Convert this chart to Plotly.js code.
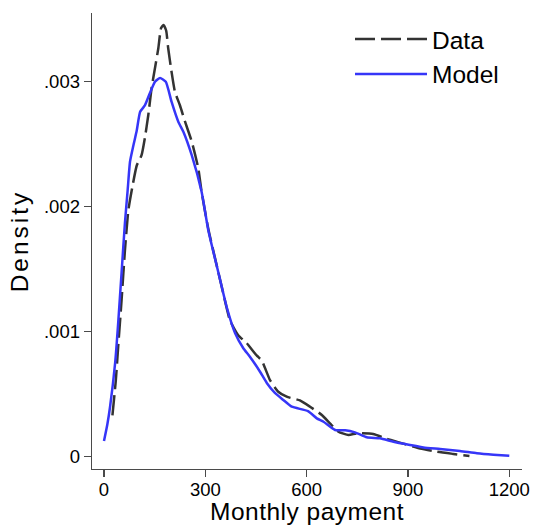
<!DOCTYPE html>
<html>
<head>
<meta charset="utf-8">
<script src="https://cdn.plot.ly/plotly-3.0.1.min.js"></script>
<style>
  html, body { margin: 0; padding: 0; background: #fff; }
  #chart { width: 534px; height: 525px; }
  .ytitle { letter-spacing: 3px; }
  .xtitle { letter-spacing: 0.5px; }
</style>
</head>
<body>
<div id="chart"></div>
<script>
// Monthly payment (x) and density (y)
const modelX = [0, 10, 18, 33, 42, 52, 62, 70, 77, 87, 97, 107, 121, 136, 151, 166, 183, 200, 220, 235, 260, 289, 309, 339, 363, 388, 412, 432, 462, 482, 506, 531, 556, 604, 630, 650, 684, 714, 743, 778, 817, 857, 906, 946, 995, 1054, 1104, 1153, 1200];
const modelY = [0.000126, 0.00026, 0.0004, 0.00075, 0.00107, 0.00147, 0.00187, 0.00213, 0.00236, 0.00249, 0.00261, 0.00276, 0.00281, 0.00291, 0.0030, 0.00303, 0.0030, 0.00284, 0.00268, 0.0026, 0.00241, 0.00212, 0.00181, 0.00147, 0.0012, 0.00099, 0.00087, 0.0008, 0.00068, 0.00059, 0.00051, 0.000454, 0.0004, 0.000365, 0.000307, 0.00028, 0.000214, 0.000212, 0.000195, 0.000155, 0.000147, 0.00012, 0.000094, 0.000074, 0.000062, 0.000046, 0.000028, 0.000016, 0.000007];

const dataX = [25, 35, 42, 52, 62, 72, 82, 97, 111, 121, 131, 141, 151, 161, 169, 176, 184, 190, 200, 210, 225, 240, 260, 279, 289, 309, 339, 365, 373, 398, 422, 452, 467, 492, 516, 541, 580, 610, 645, 669, 694, 724, 749, 797, 837, 886, 936, 985, 1034, 1082];
const dataY = [0.00033, 0.00061, 0.00088, 0.00125, 0.00165, 0.00197, 0.00213, 0.00233, 0.00241, 0.00255, 0.00273, 0.00295, 0.00311, 0.00327, 0.00343, 0.003454, 0.00341, 0.00327, 0.00308, 0.00292, 0.00281, 0.00268, 0.00252, 0.00231, 0.00212, 0.00182, 0.00147, 0.00117, 0.00109, 0.00097, 0.00091, 0.00081, 0.00077, 0.00061, 0.00052, 0.00048, 0.00045, 0.0004, 0.000334, 0.000267, 0.0002, 0.000174, 0.000187, 0.000182, 0.000143, 0.000105, 0.000065, 0.00004, 0.000022, 0.000006];

const xTickVals = [0, 300, 600, 900, 1200];
const xTickText = ['0', '300', '600', '900', '1200'];
const yTickVals = [0, 0.001, 0.002, 0.003];
const yTickText = ['0', '.001', '.002', '.003'];

const FONT = 'Liberation Sans, Arial, Helvetica, sans-serif';
const AXIS_COLOR = '#4a4a4a';

const traces = [
  {
    x: dataX, y: dataY, name: 'Data', type: 'scatter', mode: 'lines',
    line: { color: '#333333', width: 2.5, dash: '20px,6px', shape: 'spline', smoothing: 0.5 }
  },
  {
    x: modelX, y: modelY, name: 'Model', type: 'scatter', mode: 'lines',
    line: { color: '#3636f8', width: 2.5, shape: 'spline', smoothing: 0.5 }
  }
];

const layout = {
  width: 534, height: 525,
  margin: { l: 92, r: 12, t: 13, b: 56 },
  paper_bgcolor: '#fff', plot_bgcolor: '#fff',
  font: { family: FONT, color: '#000', size: 18.5 },
  showlegend: true,
  legend: {
    x: 0.600, y: 0.992, xanchor: 'left', yanchor: 'top',
    font: { family: FONT, size: 24.5, color: '#000' },
    itemwidth: 72, bgcolor: 'rgba(0,0,0,0)', borderwidth: 0, tracegroupgap: 0
  },
  xaxis: {
    range: [-35.5, 1237.6], tickvals: xTickVals, ticktext: xTickText,
    showgrid: false, zeroline: false, showline: true, linecolor: AXIS_COLOR, linewidth: 1.3,
    ticks: 'outside', ticklen: 7, tickwidth: 1.3, tickcolor: AXIS_COLOR,
    ticklabelstandoff: -4,
    tickfont: { family: FONT, size: 18.5, color: '#000' },
    title: { text: 'Monthly payment', font: { family: FONT, size: 24.5, color: '#000' }, standoff: 12 }
  },
  yaxis: {
    range: [-0.0000984, 0.00355], tickvals: yTickVals, ticktext: yTickText,
    showgrid: false, zeroline: false, showline: true, linecolor: AXIS_COLOR, linewidth: 1.3,
    ticks: 'outside', ticklen: 7, tickwidth: 1.3, tickcolor: AXIS_COLOR,
    tickfont: { family: FONT, size: 18.5, color: '#000' },
    title: { text: 'Density', font: { family: FONT, size: 24.5, color: '#000' }, standoff: 8 }
  }
};

Plotly.newPlot('chart', traces, layout, { staticPlot: true, displayModeBar: false });
</script>
</body>
</html>
